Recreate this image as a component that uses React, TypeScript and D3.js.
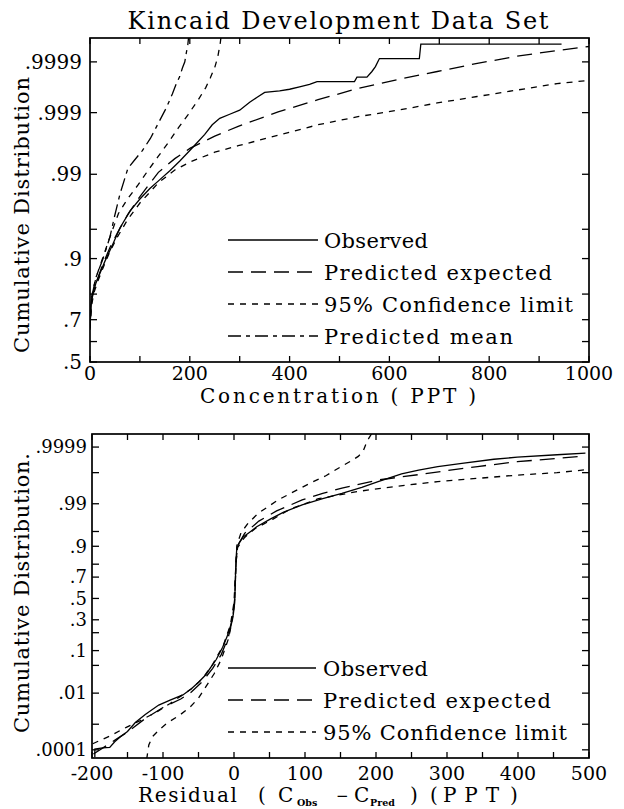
import React from "react";
import * as d3 from "d3";

// ---------- text ----------
const TITLE = "Kincaid Development Data Set";
const Y_LABEL_TOP = "Cumulative Distribution";
const Y_LABEL_BOTTOM = "Cumulative Distribution.";
const X_LABEL_TOP = "Concentration ( PPT )";

// ---------- ticks ----------
const topYTickValues = [0.5, 0.7, 0.9, 0.99, 0.999, 0.9999];
const topYTickLabels = [".5", ".7", ".9", ".99", ".999", ".9999"];
const topYMinorValues = [0.6, 0.8, 0.95];
const topXTickValues = [0, 200, 400, 600, 800, 1000];
const topXTickLabels = ["0", "200", "400", "600", "800", "1000"];
const topXMinorValues = [100, 300, 500, 700, 900];

const botYTickValues = [0.0001, 0.01, 0.1, 0.3, 0.5, 0.7, 0.9, 0.99, 0.9999];
const botYTickLabels = [".0001", ".01", ".1", ".3", ".5", ".7", ".9", ".99", ".9999"];
const botYMinorValues = [0.001, 0.05, 0.2, 0.8, 0.95, 0.999];
const botXTickValues = [-200, -100, 0, 100, 200, 300, 400, 500];
const botXTickLabels = ["-200", "-100", "0", "100", "200", "300", "400", "500"];
const botXMinorValues = [-150, -50, 50, 150, 250, 350, 450];

// ---------- data: [x, normal score (probit of cumulative probability)] ----------
// Top panel: concentration (PPT)
const topObserved: [number, number][] = [
  [0, 0.4], [1, 0.6], [3, 0.78], [6, 0.85], [12, 0.98], [20, 1.1], [30, 1.25], [45, 1.45],
  [60, 1.66], [80, 1.87], [100, 2.02], [120, 2.15], [140, 2.26], [160, 2.37], [180, 2.49],
  [200, 2.62], [215, 2.72], [230, 2.82], [245, 2.94], [260, 3.02], [280, 3.07], [300, 3.12],
  [320, 3.22], [335, 3.28], [350, 3.34], [380, 3.36], [400, 3.38], [420, 3.41], [440, 3.44],
  [455, 3.475], [530, 3.475], [535, 3.53], [555, 3.53], [565, 3.6], [572, 3.66], [580, 3.76],
  [660, 3.76], [663, 3.94], [945, 3.94],
];
const topExpected: [number, number][] = [
  [0, 0.45], [3, 0.75], [8, 0.9], [15, 1.03], [25, 1.2], [40, 1.42], [55, 1.6], [75, 1.82],
  [100, 2.05], [137, 2.35], [170, 2.52], [201, 2.65], [250, 2.8], [297, 2.92], [377, 3.1],
  [457, 3.25], [537, 3.39], [617, 3.5], [696, 3.6], [776, 3.7], [856, 3.79], [936, 3.86], [1000, 3.91],
];
const topLowerCL: [number, number][] = [
  [0, 0.42], [3, 0.7], [8, 0.86], [15, 0.99], [25, 1.15], [40, 1.37], [55, 1.55], [75, 1.76],
  [100, 1.97], [137, 2.22], [170, 2.38], [201, 2.48], [250, 2.6], [297, 2.68], [377, 2.81],
  [457, 2.94], [537, 3.04], [617, 3.12], [696, 3.21], [776, 3.29], [856, 3.37], [936, 3.45], [1000, 3.49],
];
const topUpperCL: [number, number][] = [
  [0, 0.5], [3, 0.8], [8, 0.95], [15, 1.1], [25, 1.28], [40, 1.55], [57, 1.84], [75, 2.02],
  [97, 2.2], [117, 2.38], [137, 2.55], [157, 2.72], [177, 2.9], [197, 3.07], [217, 3.25],
  [232, 3.4], [241, 3.52], [250, 3.65], [256, 3.78], [261, 3.95], [263, 4.05],
];
const topMean: [number, number][] = [
  [0, 0.5], [5, 0.85], [12, 1.05], [26, 1.28], [40, 1.55], [49, 1.8], [60, 2.08], [76, 2.4],
  [89, 2.5], [105, 2.62], [121, 2.77], [137, 2.96], [153, 3.15], [165, 3.32], [173, 3.45],
  [180, 3.54], [185, 3.64], [190, 3.72], [193, 3.83], [196, 3.93], [198, 4.05],
];

// Bottom panel: residual (PPT)
const botObserved: [number, number][] = [
  [-196, -3.9], [-196, -3.7], [-185, -3.67], [-175, -3.66], [-168, -3.52], [-160, -3.4],
  [-150, -3.27], [-139, -3.05], [-125, -2.85], [-106, -2.62], [-90, -2.5], [-72, -2.37],
  [-60, -2.22], [-50, -2.06], [-40, -1.88], [-33, -1.7], [-25, -1.5], [-16, -1.2], [-10, -0.95],
  [-5, -0.68], [-1, -0.4], [1, -0.1], [2, 0.5], [3, 1.0], [4, 1.25], [8, 1.38], [13, 1.51],
  [23, 1.64], [32, 1.76], [51, 1.95], [70, 2.12], [96, 2.3], [125, 2.45], [152, 2.58],
  [180, 2.73], [203, 2.87], [236, 3.06], [260, 3.15], [287, 3.24], [321, 3.32], [366, 3.42],
  [399, 3.47], [455, 3.53], [495, 3.57],
];
const botExpected: [number, number][] = [
  [-198, -3.82], [-180, -3.62], [-165, -3.45], [-150, -3.28], [-125, -2.95], [-100, -2.68],
  [-75, -2.47], [-60, -2.3], [-45, -2.05], [-30, -1.72], [-18, -1.38], [-8, -0.95], [-2, -0.5],
  [1, 0.0], [3, 0.9], [5, 1.3], [15, 1.6], [35, 1.9], [60, 2.15], [96, 2.42], [125, 2.58],
  [152, 2.71], [203, 2.91], [259, 3.04], [300, 3.14], [343, 3.24], [399, 3.36], [455, 3.44], [495, 3.5],
];
const botUpperCL: [number, number][] = [
  [-199, -3.57], [-175, -3.38], [-151, -3.16], [-132, -3.0], [-108, -2.78], [-90, -2.58],
  [-75, -2.4], [-60, -2.22], [-45, -1.98], [-30, -1.62], [-15, -1.15], [-5, -0.65], [0, -0.1],
  [2, 0.6], [4, 1.3], [10, 1.62], [20, 1.85], [34, 2.09], [62, 2.42], [107, 2.83], [130, 3.02],
  [147, 3.2], [165, 3.38], [175, 3.49], [182, 3.62], [186, 3.8], [190, 3.94], [194, 4.05],
];
const botLowerCL: [number, number][] = [
  [-123, -3.95], [-120, -3.6], [-115, -3.4], [-105, -3.22], [-94, -3.06], [-76, -2.86],
  [-62, -2.67], [-50, -2.45], [-40, -2.18], [-28, -1.85], [-18, -1.5], [-8, -1.0], [-2, -0.5],
  [1, 0.0], [3, 0.9], [5, 1.25], [15, 1.5], [30, 1.72], [55, 1.95], [80, 2.2], [119, 2.45],
  [175, 2.63], [231, 2.76], [287, 2.87], [343, 2.95], [399, 3.03], [455, 3.09], [495, 3.16],
];

// ---------- legend ----------
const topLegendLabels = ["Observed", "Predicted expected", "95% Confidence limit", "Predicted mean"];
const topLegendWidths = [104, 228, 249, 189];
const botLegendLabels = ["Observed", "Predicted expected", "95% Confidence limit"];
const botLegendWidths = [105, 228, 244];

// ---------- helpers ----------
function probit(p: number): number {
  const a = [-3.969683028665376e1, 2.209460984245205e2, -2.759285104469687e2, 1.38357751867269e2, -3.066479806614716e1, 2.506628277459239];
  const b = [-5.447609879822406e1, 1.615858368580409e2, -1.556989798598866e2, 6.680131188771972e1, -1.328068155288572e1];
  const c = [-7.784894002430293e-3, -3.223964580411365e-1, -2.400758277161838, -2.549732539343734, 4.374664141464968, 2.938163982698783];
  const d = [7.784695709041462e-3, 3.224671290700398e-1, 2.445134137142996, 3.754408661907416];
  const pl = 0.02425;
  if (p < pl) {
    const q = Math.sqrt(-2 * Math.log(p));
    return (((((c[0] * q + c[1]) * q + c[2]) * q + c[3]) * q + c[4]) * q + c[5]) / ((((d[0] * q + d[1]) * q + d[2]) * q + d[3]) * q + 1);
  }
  if (p > 1 - pl) {
    const q = Math.sqrt(-2 * Math.log(1 - p));
    return -(((((c[0] * q + c[1]) * q + c[2]) * q + c[3]) * q + c[4]) * q + c[5]) / ((((d[0] * q + d[1]) * q + d[2]) * q + d[3]) * q + 1);
  }
  const q = p - 0.5;
  const r = q * q;
  return ((((((a[0] * r + a[1]) * r + a[2]) * r + a[3]) * r + a[4]) * r + a[5]) * q) / (((((b[0] * r + b[1]) * r + b[2]) * r + b[3]) * r + b[4]) * r + 1);
}

const FONT = "'DejaVu Serif', 'Liberation Serif', serif";
const DASH = {
  observed: "none",
  expected: "15,8",
  cl: "6,6",
  mean: "13,5,4,5",
};

type Series = { data: [number, number][]; dash: string };

function Panel(props: {
  id: string;
  x: d3.ScaleLinear<number, number>;
  y: d3.ScaleLinear<number, number>;
  yTicks: number[];
  yLabels: string[];
  yMinor: number[];
  yFont: number;
  xTicks: number[];
  xLabels: string[];
  xMinor: number[];
  series: Series[];
  legend: string[];
  legendWidths: number[];
  legendDash: string[];
  legendY0: number;
  legendX: [number, number, number];
  yLabelGap: number;
  xLabelBaseline: number;
}) {
  const { x, y } = props;
  const [x0, x1] = x.range();
  const [yb, yt] = y.range();
  const line = d3.line<[number, number]>().x((d) => x(d[0])).y((d) => y(d[1]));
  const tickLen = 7;
  const allY = [...props.yTicks, ...props.yMinor];
  const allX = [...props.xTicks, ...props.xMinor];
  return (
    <g>
      <defs>
        <clipPath id={props.id}>
          <rect x={x0} y={yt} width={x1 - x0} height={yb - yt} />
        </clipPath>
      </defs>
      <g clipPath={`url(#${props.id})`} fill="none" stroke="#000" strokeWidth={1.3}>
        {props.series.map((s, i) => (
          <path key={i} d={line(s.data) || ""} strokeDasharray={s.dash === "none" ? undefined : s.dash} />
        ))}
      </g>
      <rect x={x0} y={yt} width={x1 - x0} height={yb - yt} fill="none" stroke="#000" strokeWidth={1.7} />
      {allY.map((p, i) => {
        const yy = y(probit(p));
        return (
          <g key={"yt" + i} stroke="#000" strokeWidth={1.3}>
            <line x1={x0} x2={x0 + tickLen} y1={yy} y2={yy} />
            <line x1={x1} x2={x1 - tickLen} y1={yy} y2={yy} />
          </g>
        );
      })}
      {allX.map((v, i) => {
        const xx = x(v);
        return (
          <g key={"xt" + i} stroke="#000" strokeWidth={1.3}>
            <line x1={xx} x2={xx} y1={yb} y2={yb - 6} />
            <line x1={xx} x2={xx} y1={yt} y2={yt + 6} />
          </g>
        );
      })}
      {props.yTicks.map((p, i) => (
        <text key={"yl" + i} x={x0 - props.yLabelGap} y={y(probit(p)) + props.yFont * 0.35} textAnchor="end"
          fontSize={props.yFont} fontFamily={FONT}>
          {props.yLabels[i]}
        </text>
      ))}
      {props.xTicks.map((v, i) => (
        <text key={"xl" + i} x={x(v)} y={props.xLabelBaseline} textAnchor="middle" fontSize={19} fontFamily={FONT}>
          {props.xLabels[i]}
        </text>
      ))}
      {props.legend.map((lab, i) => {
        const cy = props.legendY0 + i * 32;
        const dash = props.legendDash[i];
        return (
          <g key={"lg" + i}>
            <line x1={props.legendX[0]} x2={props.legendX[1]} y1={cy} y2={cy} stroke="#000" strokeWidth={1.3}
              strokeDasharray={dash === "none" ? undefined : dash} />
            <text x={props.legendX[2]} y={cy + 7.5} fontSize={21} fontFamily={FONT}
              textLength={props.legendWidths[i]} lengthAdjust="spacing">
              {lab}
            </text>
          </g>
        );
      })}
    </g>
  );
}

export default function App() {
  const xTop = d3.scaleLinear().domain([0, 1000]).range([90, 589]);
  const yTop = d3.scaleLinear().domain([0, 4.015]).range([362, 38]);
  const xBot = d3.scaleLinear().domain([-200, 500]).range([92, 589]);
  const yBot = d3.scaleLinear().domain([-3.92, 4.04]).range([758, 434]);

  const topSeries: Series[] = [
    { data: topObserved, dash: DASH.observed },
    { data: topExpected, dash: DASH.expected },
    { data: topLowerCL, dash: DASH.cl },
    { data: topUpperCL, dash: DASH.cl },
    { data: topMean, dash: DASH.mean },
  ];
  const botSeries: Series[] = [
    { data: botObserved, dash: DASH.observed },
    { data: botExpected, dash: DASH.expected },
    { data: botUpperCL, dash: DASH.cl },
    { data: botLowerCL, dash: DASH.cl },
  ];

  return (
    <svg width={624} height={809} style={{ position: "absolute", left: 0, top: 0, background: "#fff" }}>
      <rect width={624} height={809} fill="#fff" />
      <text x={338} y={29} textAnchor="middle" fontSize={24} fontFamily={FONT} textLength={421} lengthAdjust="spacing">
        {TITLE}
      </text>
      <Panel
        id="clipTop" x={xTop} y={yTop}
        yTicks={topYTickValues} yLabels={topYTickLabels} yMinor={topYMinorValues} yFont={20}
        xTicks={topXTickValues} xLabels={topXTickLabels} xMinor={topXMinorValues}
        series={topSeries}
        legend={topLegendLabels} legendWidths={topLegendWidths}
        legendDash={[DASH.observed, DASH.expected, DASH.cl, DASH.mean]}
        legendY0={240} legendX={[228, 318, 324]}
        yLabelGap={8} xLabelBaseline={380}
      />
      <text x={338} y={403} textAnchor="middle" fontSize={20} fontFamily={FONT} textLength={276} lengthAdjust="spacing">
        {X_LABEL_TOP}
      </text>
      <text transform="translate(29,215) rotate(-90)" textAnchor="middle" fontSize={21} fontFamily={FONT} textLength={276} lengthAdjust="spacing">
        {Y_LABEL_TOP}
      </text>

      <Panel
        id="clipBot" x={xBot} y={yBot}
        yTicks={botYTickValues} yLabels={botYTickLabels} yMinor={botYMinorValues} yFont={18}
        xTicks={botXTickValues} xLabels={botXTickLabels} xMinor={botXMinorValues}
        series={botSeries}
        legend={botLegendLabels} legendWidths={botLegendWidths}
        legendDash={[DASH.observed, DASH.expected, DASH.cl]}
        legendY0={668} legendX={[228, 316, 323]}
        yLabelGap={5} xLabelBaseline={780}
      />
      <text transform="translate(29,593) rotate(-90)" textAnchor="middle" fontSize={21} fontFamily={FONT} textLength={280} lengthAdjust="spacing">
        {Y_LABEL_BOTTOM}
      </text>
      <g fontFamily={FONT} fontSize={20}>
        <text x={138} y={802} textLength={99} lengthAdjust="spacing">Residual</text>
        <text x={258} y={802}>(</text>
        <text x={278} y={802}>C</text>
        <text x={297} y={806} fontSize={9.5} fontWeight="bold">Obs</text>
        <text x={336} y={801} fontSize={15}>−</text>
        <text x={354} y={802}>C</text>
        <text x={370} y={806} fontSize={9.5} fontWeight="bold">Pred</text>
        <text x={410} y={802}>)</text>
        <text x={430} y={802}>(</text>
        <text x={443} y={802} textLength={56} lengthAdjust="spacing">PPT</text>
        <text x={510} y={802}>)</text>
      </g>
    </svg>
  );
}
